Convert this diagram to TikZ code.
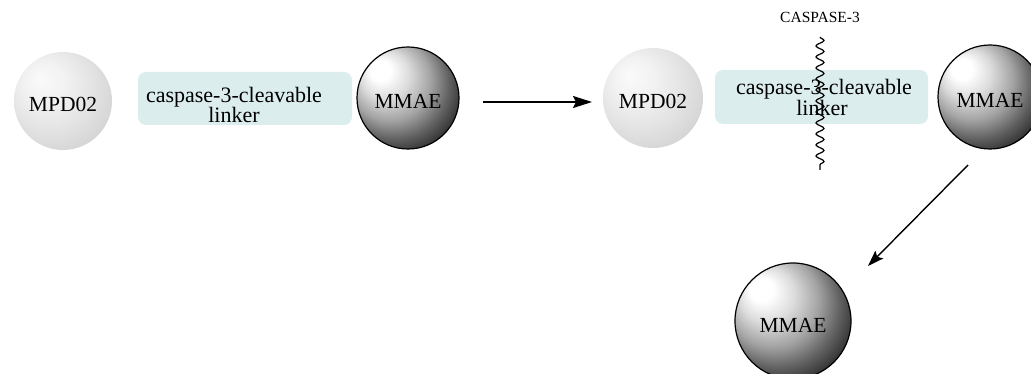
\documentclass[tikz,border=0pt]{standalone}
\usepackage{fontspec}
\setmainfont{Liberation Serif}
\usetikzlibrary{arrows.meta,decorations.pathmorphing}

\definecolor{linkfill}{RGB}{220,237,237}

% soft grey bead and glossy black bead
\pgfdeclareradialshading{lightball}{\pgfpoint{-12bp}{12bp}}{%
  color(0bp)=(white!98!black); color(10bp)=(white!95!black);
  color(22bp)=(white!89!black); color(34bp)=(white!82!black);
  color(46bp)=(white!74!black); color(50bp)=(white!72!black)}
\pgfdeclareradialshading{darkball}{\pgfpoint{-15bp}{15bp}}{%
  color(0bp)=(white); color(5bp)=(white); color(12bp)=(white!86!black);
  color(20bp)=(white!64!black); color(27bp)=(black!62);
  color(34bp)=(black!85); color(42bp)=(black); color(50bp)=(black)}

\begin{document}
\begin{tikzpicture}[x=1pt,y=-1pt,
  sphere/.style={circle, inner sep=0pt, minimum size=#1,
    text height=22pt, text depth=0pt, font=\fontsize{21.5}{24}\selectfont},
  light/.style={sphere=#1, shade, shading=lightball},
  dark/.style={sphere=#1, shade, shading=darkball, draw=black, line width=1.2pt},
  linkbox/.style={rectangle, rounded corners=8pt, fill=linkfill, inner sep=0pt},
  linktext/.style={anchor=base, inner sep=0pt, font=\fontsize{22}{24}\selectfont},
  reaction/.style={line width=2pt, -{Stealth[length=19pt,width=12pt,inset=3pt]}},
  release/.style={line width=1.4pt, -{Stealth[length=16pt,width=11pt,inset=3pt]}},
  squiggle/.style={line width=1.2pt, decorate,
    decoration={snake, amplitude=4pt, segment length=11pt}}]

\useasboundingbox (0,0) rectangle (1031,374);
\clip (0,0) rectangle (1031,374);

% intact conjugate
\node[light=98pt] (mpdA) at (63,101) {MPD02};
\node[linkbox, minimum width=214pt, minimum height=53pt] (boxA) at (245,98.5) {};
\node[linktext] (boxAtop) at (234,103) {caspase-3-cleavable};
\node[linktext] (boxAbot) at (234,123) {linker};
\node[dark=102pt] (mmaeA) at (408,98) {MMAE};

% cleavage step
\coordinate (stepS) at (483,102);
\coordinate (stepE) at (592,102);
\draw[reaction] (stepS) -- (stepE);

% conjugate being cut
\node[light=100pt] (mpdB) at (653,98) {MPD02};
\node[linkbox, minimum width=213pt, minimum height=54pt] (boxB) at (821.5,97) {};
\node[linktext] (boxBtop) at (824,95) {caspase-3-cleavable};
\node[linktext] (boxBbot) at (822,116) {linker};
\node[dark=104pt] (mmaeB) at (990,97) {MMAE};

% enzyme cut mark
\node[font=\fontsize{15.5}{18}\selectfont] (enzyme) at (820,17) {CASPASE-3};
\coordinate (cutT) at (820,37);
\coordinate (cutB) at (820,170);
\draw[squiggle] (cutT) -- (cutB);

% released payload
\coordinate (relS) at (968,165);
\coordinate (relE) at (868,266);
\draw[release] (relS) -- (relE);
\node[dark=116pt] (mmaeC) at (793,321) {MMAE};
\end{tikzpicture}
\end{document}
